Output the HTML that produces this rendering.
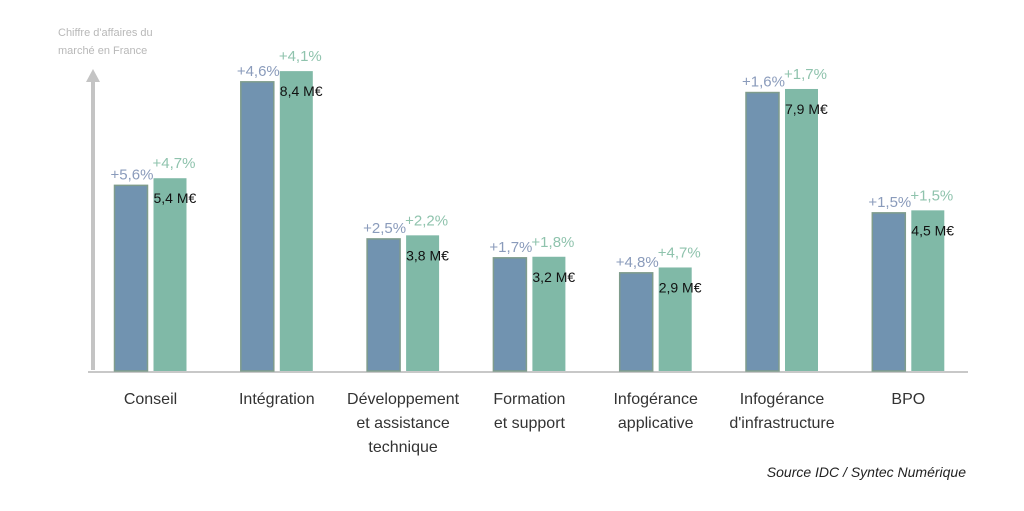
<!DOCTYPE html>
<html><head><meta charset="utf-8"><style>
body{margin:0;background:#fff;width:1024px;height:506px;overflow:hidden;font-family:"Liberation Sans",sans-serif}
</style></head><body>
<svg id="chart" width="1024" height="506" xmlns="http://www.w3.org/2000/svg">
<text x="58" y="36" font-size="11" fill="#b8b8b8">Chiffre d'affaires du</text>
<text x="58" y="54" font-size="11" fill="#b8b8b8">marché en France</text>
<line x1="93" y1="370" x2="93" y2="80" stroke="#c4c4c4" stroke-width="4"/>
<polygon points="86,82 100,82 93,69" fill="#c4c4c4"/>
<line x1="88" y1="372" x2="968" y2="372" stroke="#c8c8c8" stroke-width="2"/>
<g id="bars"></g>
<text x="966" y="477" text-anchor="end" font-size="14" font-style="italic" fill="#222">Source IDC / Syntec Numérique</text>
</svg>
<script>
const categories=[["Conseil"],["Intégration"],["Développement","et assistance","technique"],["Formation","et support"],["Infogérance","applicative"],["Infogérance","d'infrastructure"],["BPO"]];
const prevValues=[5.2,8.1,3.7,3.17,2.75,7.8,4.43];
const currValues=[5.4,8.4,3.8,3.2,2.9,7.9,4.5];
const prevGrowth=["+5,6%","+4,6%","+2,5%","+1,7%","+4,8%","+1,6%","+1,5%"];
const currGrowth=["+4,7%","+4,1%","+2,2%","+1,8%","+4,7%","+1,7%","+1,5%"];
const valueLabels=["5,4 M€","8,4 M€","3,8 M€","3,2 M€","2,9 M€","7,9 M€","4,5 M€"];
const NS="http://www.w3.org/2000/svg";
const g=document.getElementById('bars');
const y0=371, k=35.7;
function y(v){return y0-v*k;}
function xc(i){return 150.5+i*126.3;}
function mk(tag,attrs,txt){const e=document.createElementNS(NS,tag);for(const a in attrs)e.setAttribute(a,attrs[a]);if(txt!==undefined)e.textContent=txt;g.appendChild(e);return e;}
const bw=33;
categories.forEach((c,i)=>{
  const cx=xc(i);
  const bx=cx-36, gx=cx+3;
  let e=mk('rect',{x:bx,y:y(prevValues[i]),width:bw,height:y0-y(prevValues[i]),fill:'#7193b0',stroke:'#7f9c8c','stroke-width':1.5});
  
  
  e=mk('rect',{x:gx,y:y(currValues[i]),width:bw,height:y0-y(currValues[i]),fill:'#80b9a7'});
  
  
  e=mk('text',{x:bx+bw/2+1,y:y(prevValues[i])-6,'text-anchor':'middle','font-size':15,fill:'#8a9bbb'},prevGrowth[i]);
  
  
  e=mk('text',{x:gx+bw/2+4,y:y(currValues[i])-10,'text-anchor':'middle','font-size':15,fill:'#8fc3ad'},currGrowth[i]);
  
  
  e=mk('text',{x:gx+0,y:y(currValues[i])+25,'font-size':14,fill:'#111'},valueLabels[i]);
  
  
  c.forEach((line,j)=>{
    e=mk('text',{x:cx,y:404+j*24,'text-anchor':'middle','font-size':16,fill:'#333'},line);
    
    
  });
});
</script>
</body></html>
